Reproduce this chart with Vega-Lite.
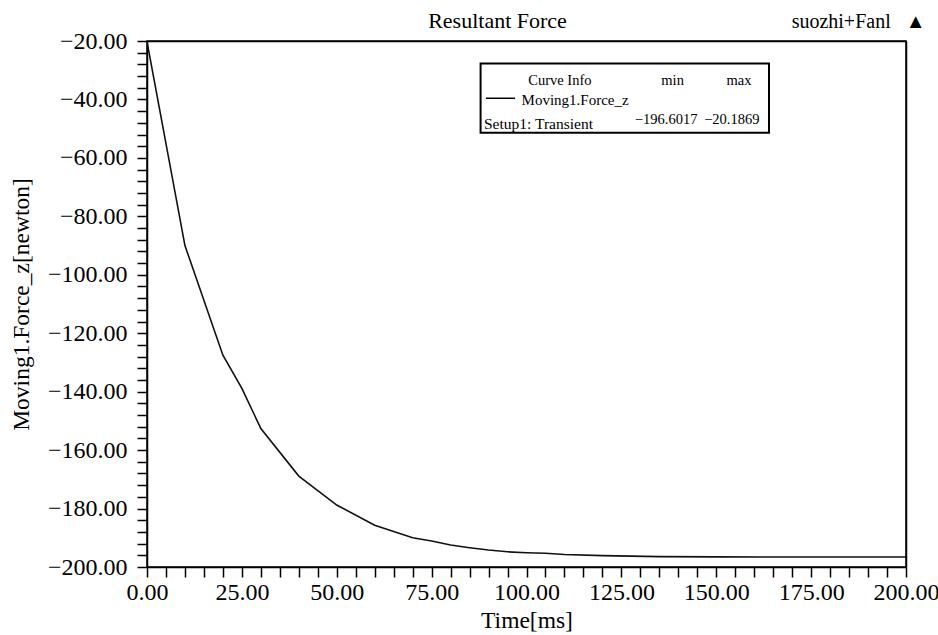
{
  "$schema": "https://vega.github.io/schema/vega-lite/v6.json",
  "autosize": "none",
  "width": 759,
  "height": 526,
  "padding": {"left": 147, "top": 41, "right": 32, "bottom": 68},
  "background": "white",
  "config": {
    "view": {"stroke": "black", "strokeWidth": 1.5},
    "font": "Liberation Serif",
    "axis": {
      "grid": false,
      "domainColor": "black",
      "domainWidth": 1.5,
      "tickColor": "black",
      "tickWidth": 1.5,
      "labelColor": "black",
      "titleColor": "black",
      "labelFont": "Liberation Serif",
      "titleFont": "Liberation Serif",
      "labelFontSize": 24,
      "titleFontSize": 23.5,
      "titleFontWeight": "normal",
      "labelOverlap": false,
      "labelBound": false,
      "labelFlush": false
    },
    "text": {"font": "Liberation Serif", "color": "black"}
  },
  "datasets": {
    "curve": [
      {"t": 0, "f": -20.1869},
      {"t": 10, "f": -90.0},
      {"t": 20, "f": -127.5},
      {"t": 25, "f": -138.9},
      {"t": 30, "f": -152.6},
      {"t": 40, "f": -168.9},
      {"t": 50, "f": -178.8},
      {"t": 60, "f": -185.7},
      {"t": 70, "f": -190.0},
      {"t": 75, "f": -191.1},
      {"t": 80, "f": -192.5},
      {"t": 85, "f": -193.4},
      {"t": 90, "f": -194.2},
      {"t": 95, "f": -194.8},
      {"t": 100, "f": -195.1},
      {"t": 105, "f": -195.3},
      {"t": 110, "f": -195.7},
      {"t": 120, "f": -196.1},
      {"t": 135, "f": -196.45},
      {"t": 150, "f": -196.55},
      {"t": 175, "f": -196.6},
      {"t": 200, "f": -196.6017}
    ],
    "one": [{}]
  },
  "resolve": {"axis": {"x": "independent", "y": "independent"}},
  "layer": [
    {
      "data": {"name": "curve"},
      "mark": {"type": "line", "color": "#111111", "strokeWidth": 1.6, "clip": true},
      "encoding": {
        "x": {
          "field": "t", "type": "quantitative",
          "scale": {"domain": [0, 200], "nice": false, "zero": false},
          "axis": {
            "orient": "bottom",
            "title": "Time[ms]",
            "titleY": 60,
            "titleBaseline": "alphabetic",
            "format": ".2f",
            "values": [0,5,10,15,20,25,30,35,40,45,50,55,60,65,70,75,80,85,90,95,100,105,110,115,120,125,130,135,140,145,150,155,160,165,170,175,180,185,190,195,200],
            "labelExpr": "datum.value % 25 === 0 ? datum.label : ''",
            "tickSize": 10,
            "labelPadding": 3,
            "encode": {"ticks": {"update": {"y2": {"signal": "datum.value % 25 === 0 ? 10 : 6"}}}}
          }
        },
        "y": {
          "field": "f", "type": "quantitative",
          "scale": {"domain": [-200, -20], "nice": false, "zero": false},
          "axis": {
            "orient": "left",
            "title": "Moving1.Force_z[newton]",
            "titleX": -119,
            "titleY": 263,
            "titleAlign": "center",
            "titleBaseline": "alphabetic",
            "format": ".2f",
            "values": [-200,-196,-192,-188,-184,-180,-176,-172,-168,-164,-160,-156,-152,-148,-144,-140,-136,-132,-128,-124,-120,-116,-112,-108,-104,-100,-96,-92,-88,-84,-80,-76,-72,-68,-64,-60,-56,-52,-48,-44,-40,-36,-32,-28,-24,-20],
            "labelExpr": "datum.value % 20 === 0 ? datum.label : ''",
            "tickSize": 10,
            "labelPadding": 10,
            "encode": {"ticks": {"update": {"x2": {"signal": "datum.value % 20 === 0 ? -10 : -6"}}}}
          }
        }
      }
    },
    {
      "data": {"name": "one"},
      "mark": {"type": "rect", "fill": "white", "stroke": "black", "strokeWidth": 2},
      "encoding": {
        "x": {"datum": 87.9, "type": "quantitative",
          "axis": {
            "orient": "top", "ticks": false, "labels": false, "domain": true,
            "title": "Resultant Force",
            "titleX": 350, "titleY": -13.5, "titleAlign": "center", "titleBaseline": "alphabetic",
            "titleFontSize": 22
          }
        },
        "x2": {"datum": 163.9},
        "y": {"datum": -27.7, "type": "quantitative",
          "axis": {
            "orient": "right", "ticks": false, "labels": false, "domain": true,
            "title": "suozhi+Fanl\u2002  ▲",
            "titleAngle": 0, "titleX": 19, "titleY": -13.5, "titleAlign": "right", "titleBaseline": "alphabetic",
            "titleFontSize": 20
          }
        },
        "y2": {"datum": -51.4}
      }
    },
    {
      "data": {"name": "one"},
      "mark": {"type": "rule", "color": "black", "strokeWidth": 1.5},
      "encoding": {
        "x": {"datum": 89.3, "type": "quantitative", "axis": null},
        "x2": {"datum": 97},
        "y": {"datum": -39.6, "type": "quantitative", "axis": null}
      }
    },
    {
      "data": {"name": "one"},
      "mark": {"type": "text", "text": "Curve Info", "align": "center", "baseline": "middle", "fontSize": 14.5},
      "encoding": {
        "x": {"datum": 108.8, "type": "quantitative", "axis": null},
        "y": {"datum": -33.7, "type": "quantitative", "axis": null}
      }
    },
    {
      "data": {"name": "one"},
      "mark": {"type": "text", "text": "min", "align": "center", "baseline": "middle", "fontSize": 14.5},
      "encoding": {
        "x": {"datum": 138.5, "type": "quantitative", "axis": null},
        "y": {"datum": -33.7, "type": "quantitative", "axis": null}
      }
    },
    {
      "data": {"name": "one"},
      "mark": {"type": "text", "text": "max", "align": "center", "baseline": "middle", "fontSize": 14.5},
      "encoding": {
        "x": {"datum": 156, "type": "quantitative", "axis": null},
        "y": {"datum": -33.7, "type": "quantitative", "axis": null}
      }
    },
    {
      "data": {"name": "one"},
      "mark": {"type": "text", "text": "Moving1.Force_z", "align": "left", "baseline": "middle", "fontSize": 15},
      "encoding": {
        "x": {"datum": 98.7, "type": "quantitative", "axis": null},
        "y": {"datum": -40.3, "type": "quantitative", "axis": null}
      }
    },
    {
      "data": {"name": "one"},
      "mark": {"type": "text", "text": "Setup1: Transient", "align": "left", "baseline": "middle", "fontSize": 15.5},
      "encoding": {
        "x": {"datum": 88.8, "type": "quantitative", "axis": null},
        "y": {"datum": -48.3, "type": "quantitative", "axis": null}
      }
    },
    {
      "data": {"name": "one"},
      "mark": {"type": "text", "text": "−196.6017", "align": "center", "baseline": "middle", "fontSize": 14.5},
      "encoding": {
        "x": {"datum": 136.8, "type": "quantitative", "axis": null},
        "y": {"datum": -47.2, "type": "quantitative", "axis": null}
      }
    },
    {
      "data": {"name": "one"},
      "mark": {"type": "text", "text": "−20.1869", "align": "center", "baseline": "middle", "fontSize": 14.5},
      "encoding": {
        "x": {"datum": 154.1, "type": "quantitative", "axis": null},
        "y": {"datum": -47.2, "type": "quantitative", "axis": null}
      }
    }
  ]
}
